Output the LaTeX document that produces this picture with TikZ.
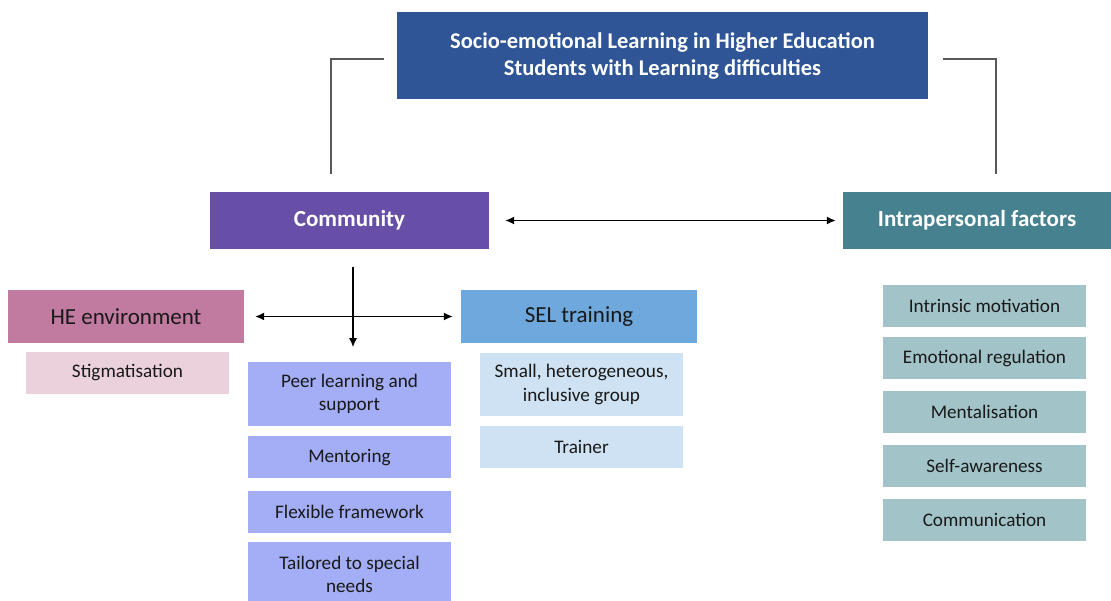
\documentclass[tikz,border=0pt]{standalone}
\usepackage{fontspec}
\setmainfont{Carlito}
\usepackage{xcolor}
\usetikzlibrary{arrows.meta}
\usetikzlibrary{positioning}

\definecolor{titleblue}{HTML}{2F5597}
\definecolor{commpurple}{HTML}{674EA7}
\definecolor{intrateal}{HTML}{45818E}
\definecolor{hepink}{HTML}{C27BA0}
\definecolor{stigpink}{HTML}{EAD1DC}
\definecolor{selblue}{HTML}{6FA8DC}
\definecolor{sellight}{HTML}{CFE2F3}
\definecolor{peerblue}{HTML}{A3AEF6}
\definecolor{intralight}{HTML}{A2C4C9}

\begin{document}
\begin{tikzpicture}[
				x=1pt, y=-1pt,
				node distance=10pt,
				box/.style={align=center, inner sep=2pt, text=black!90},
				head/.style={box, text=white, font=\bfseries\fontsize{23}{27}\selectfont, minimum height=57pt},
				group/.style={box, font=\fontsize{23}{27}\selectfont, minimum width=236pt, minimum height=53pt},
				item/.style={box, font=\fontsize{19.2}{23.5}\selectfont, minimum width=203pt, minimum height=42pt},
				link/.style={draw=black!65, line width=1.4pt},
				arrow/.style={line width=1.4pt, arrows={-Latex[length=9pt, width=8pt]}},
				twoway/.style={line width=1.4pt, arrows={Latex[length=9pt, width=8pt]-Latex[length=9pt, width=8pt]}}
			]
				\useasboundingbox (0,0) rectangle (1111,601);

				\node[head, fill=titleblue, minimum width=531pt, minimum height=87pt, font=\bfseries\fontsize{22.5}{27}\selectfont] (title) at (662.5,55.5) {Socio-emotional Learning in Higher Education\\Students with Learning difficulties};
				\node[head, fill=commpurple, minimum width=279pt] (comm) at (349.5,220.5) {Community};
				\node[head, fill=intrateal, minimum width=268pt] (intra) at (977,220.5) {Intrapersonal factors};

				\node[group, fill=hepink] (heenv) at (126,316.5) {HE environment};
				\node[item, fill=stigpink] (stig) at (127.5,373) {Stigmatisation};

				\node[group, fill=selblue] (seltr) at (579,316.5) {SEL training};
				\node[item, fill=sellight, minimum height=63pt] (small) at (581.5,384.5) {Small, heterogeneous,\\inclusive group};
				\node[item, fill=sellight, below=of small] (trainer) {Trainer};

				\node[item, fill=peerblue, minimum height=64pt] (peer) at (349.5,394) {Peer learning and\\support};
				\node[item, fill=peerblue, below=of peer] (mentor) {Mentoring};
				\node[item, fill=peerblue, below=12pt of mentor] (flex) {Flexible framework};
				\node[item, fill=peerblue, below=9pt of flex, minimum height=64pt] (tailor) {Tailored to special\\needs};

				\node[item, fill=intralight] (intrin) at (984.5,306) {Intrinsic motivation};
				\node[item, fill=intralight, below=of intrin] (emot) {Emotional regulation};
				\node[item, fill=intralight, below=11pt of emot] (mental) {Mentalisation};
				\node[item, fill=intralight, below=12pt of mental] (aware) {Self-awareness};
				\node[item, fill=intralight, below=11pt of aware] (commun) {Communication};

				\coordinate (ltop) at ([xshift=-13pt]title.west |- 0,59);
				\coordinate (lbot) at (331,174);
				\coordinate (rtop) at ([xshift=15pt]title.east |- 0,59);
				\coordinate (rbot) at (996,174);
				\draw[link] (ltop) -| (lbot);
				\draw[link] (rtop) -| (rbot);

				\draw[twoway] ([xshift=16pt]comm.east) -- ([xshift=-7pt]intra.west);
				\draw[arrow] ([xshift=3.5pt, yshift=-18pt]comm.south) -- ++(0,80);
				\draw[twoway] ([xshift=11pt]heenv.east) -- ([xshift=-8pt]seltr.west);
			\end{tikzpicture}
\end{document}
